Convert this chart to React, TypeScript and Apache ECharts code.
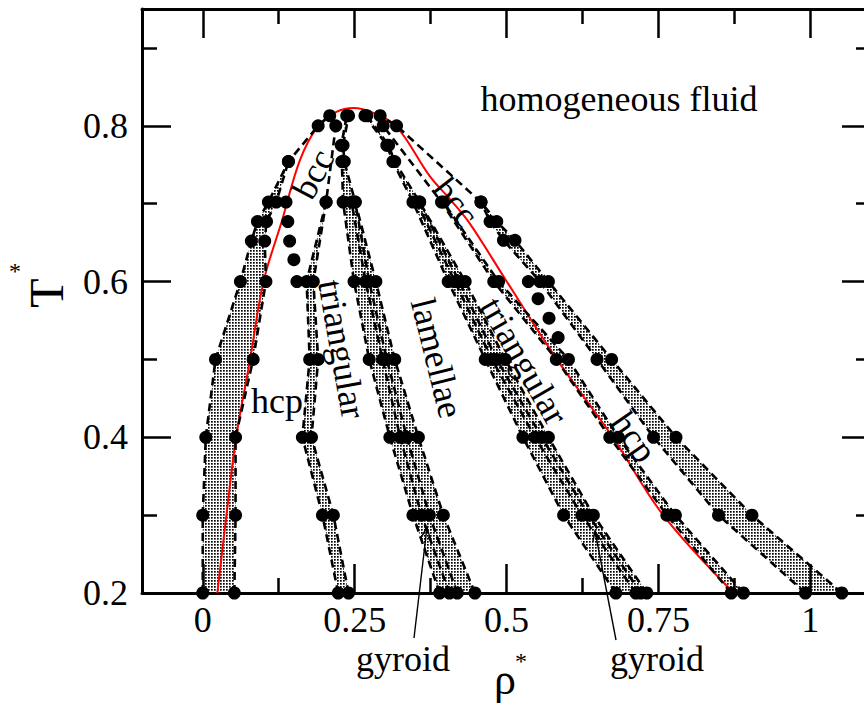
import React, { useEffect, useRef } from "react";
import * as echarts from "echarts";

// ---- axis ticks ----
const X_MAJOR = [0, 0.25, 0.5, 0.75, 1];
const X_MINOR = [0.125, 0.375, 0.625, 0.875];
const Y_MAJOR = [0.2, 0.4, 0.6, 0.8];
const Y_MINOR = [0.3, 0.5, 0.7, 0.9];

// ---- phase boundaries [rho*, T*] ----
const fluidLeftA = [[0.0, 0.2], [0.0, 0.3], [0.005, 0.4], [0.021, 0.5], [0.062, 0.6], [0.08, 0.652], [0.09, 0.677], [0.108, 0.702], [0.141, 0.754], [0.19, 0.8], [0.209, 0.813]];
const fluidLeftB = [[0.052, 0.2], [0.054, 0.3], [0.054, 0.4], [0.083, 0.5], [0.104, 0.6], [0.102, 0.652], [0.105, 0.677], [0.121, 0.702], [0.141, 0.754]];
const bccHcpLeft = [[0.155, 0.6], [0.15, 0.628], [0.143, 0.652], [0.14, 0.677], [0.137, 0.702]];
const hcpTriLeftA = [[0.223, 0.2], [0.197, 0.3], [0.164, 0.4], [0.176, 0.5], [0.171, 0.6], [0.203, 0.702], [0.219, 0.8]];
const hcpTriLeftB = [[0.24, 0.2], [0.215, 0.3], [0.179, 0.4], [0.19, 0.5], [0.182, 0.6], [0.203, 0.702]];
const triLamLeft1 = [[0.39, 0.2], [0.346, 0.3], [0.308, 0.4], [0.274, 0.5], [0.249, 0.6], [0.231, 0.702], [0.229, 0.754], [0.228, 0.775], [0.237, 0.813]];
const triLamLeft2 = [[0.406, 0.2], [0.36, 0.3], [0.325, 0.4], [0.296, 0.5], [0.268, 0.6], [0.245, 0.702]];
const triLamLeft3 = [[0.419, 0.2], [0.373, 0.3], [0.336, 0.4], [0.303, 0.5], [0.274, 0.6], [0.251, 0.702]];
const triLamLeft4 = [[0.448, 0.2], [0.396, 0.3], [0.355, 0.4], [0.316, 0.5], [0.285, 0.6], [0.251, 0.702], [0.233, 0.754], [0.231, 0.775], [0.24, 0.813]];
const lamTriRight1 = [[0.68, 0.2], [0.594, 0.3], [0.527, 0.4], [0.465, 0.5], [0.404, 0.6], [0.346, 0.702], [0.313, 0.754], [0.303, 0.775], [0.267, 0.813]];
const lamTriRight2 = [[0.713, 0.2], [0.624, 0.3], [0.547, 0.4], [0.476, 0.5], [0.415, 0.6], [0.352, 0.702]];
const lamTriRight3 = [[0.721, 0.2], [0.635, 0.3], [0.558, 0.4], [0.484, 0.5], [0.422, 0.6], [0.357, 0.702]];
const lamTriRight4 = [[0.731, 0.2], [0.643, 0.3], [0.569, 0.4], [0.498, 0.5], [0.432, 0.6], [0.357, 0.702], [0.316, 0.754], [0.306, 0.775], [0.27, 0.813]];
const triHcpRightA = [[0.87, 0.2], [0.764, 0.3], [0.67, 0.4], [0.582, 0.5], [0.479, 0.6], [0.393, 0.702], [0.297, 0.8]];
const triHcpRightB = [[0.89, 0.2], [0.778, 0.3], [0.684, 0.4], [0.602, 0.5], [0.487, 0.6], [0.396, 0.702]];
const bccHcpRight = [[0.536, 0.6], [0.552, 0.578], [0.57, 0.553], [0.585, 0.528]];
const fluidRightA = [[1.052, 0.2], [0.904, 0.3], [0.779, 0.4], [0.673, 0.5], [0.569, 0.6], [0.514, 0.653], [0.484, 0.677], [0.458, 0.702], [0.319, 0.8], [0.292, 0.813]];
const fluidRightB = [[0.992, 0.2], [0.849, 0.3], [0.742, 0.4], [0.649, 0.5], [0.555, 0.6], [0.495, 0.653], [0.473, 0.677], [0.458, 0.702]];

// mean-field (red) curve
const redCurve = [[0.024, 0.2], [0.039, 0.3], [0.055, 0.4], [0.078, 0.5], [0.1, 0.6], [0.13, 0.677], [0.16, 0.756], [0.19, 0.8], [0.22, 0.818], [0.248, 0.823], [0.28, 0.817], [0.319, 0.799], [0.374, 0.735], [0.41, 0.703], [0.44, 0.674], [0.498, 0.603], [0.583, 0.5], [0.675, 0.4], [0.758, 0.3], [0.874, 0.2]];

const FONT = '"Liberation Serif", "Times New Roman", serif';

function band(a: number[][], b: number[][], tmax: number) {
  const left = a.filter((p) => p[1] <= tmax);
  const right = b.filter((p) => p[1] <= tmax).slice().reverse();
  return left.concat(right);
}

function txt(text: string, x: number, y: number, deg: number, size: number) {
  return {
    type: "text",
    x,
    y,
    rotation: (deg * Math.PI) / 180,
    silent: true,
    z: 100,
    style: {
      text,
      fill: "#000",
      font: `${size}px ${FONT}`,
      align: "center",
      verticalAlign: "middle",
      textAlign: "center",
      textVerticalAlign: "middle",
    },
  };
}

function arrow(fx: number, fy: number, tx: number, ty: number) {
  const dx = tx - fx;
  const dy = ty - fy;
  const len = Math.sqrt(dx * dx + dy * dy);
  const ux = dx / len;
  const uy = dy / len;
  const L = 11;
  const a = (22 * Math.PI) / 180;
  const r1 = [ux * Math.cos(a) - uy * Math.sin(a), ux * Math.sin(a) + uy * Math.cos(a)];
  const r2 = [ux * Math.cos(-a) - uy * Math.sin(-a), ux * Math.sin(-a) + uy * Math.cos(-a)];
  return [
    { type: "line", silent: true, z: 100, shape: { x1: fx, y1: fy, x2: tx, y2: ty }, style: { stroke: "#000", lineWidth: 1.4 } },
    {
      type: "polyline",
      silent: true,
      z: 100,
      shape: { points: [[tx - L * r1[0], ty - L * r1[1]], [tx, ty], [tx - L * r2[0], ty - L * r2[1]]] },
      style: { stroke: "#000", lineWidth: 1.4, fill: null },
    },
  ];
}

const fmt = (v: number) => String(parseFloat(Number(v).toFixed(3)));

export default function App() {
  const ref = useRef<HTMLDivElement>(null);

  useEffect(() => {
    if (!ref.current) return;
    const chart = echarts.init(ref.current, null, { renderer: "svg" });

    const cv = document.createElement("canvas");
    cv.width = 3;
    cv.height = 3;
    const ctx = cv.getContext("2d");
    if (ctx) {
      ctx.fillStyle = "#000";
      ctx.fillRect(1, 1, 1.7, 1.7);
    }
    const pattern: any = { image: cv, repeat: "repeat", imageWidth: 3, imageHeight: 3 };

    const bands = [
      band(fluidLeftA, fluidLeftB, 0.754),
      band(hcpTriLeftA, hcpTriLeftB, 0.702),
      band(triLamLeft1, triLamLeft4, 0.82),
      band(lamTriRight1, lamTriRight4, 0.82),
      band(triHcpRightA, triHcpRightB, 0.702),
      band(fluidRightA, fluidRightB, 0.702),
    ];

    const bandSeries = bands.map((poly) => ({
      type: "custom",
      coordinateSystem: "cartesian2d",
      xAxisIndex: 0,
      yAxisIndex: 0,
      silent: true,
      z: 1,
      data: poly,
      encode: { x: 0, y: 1 },
      renderItem: (params: any, api: any) => {
        if (params.dataIndex !== 0) return null;
        const pts = poly.map((p) => api.coord(p));
        return { type: "polygon", shape: { points: pts }, style: { fill: pattern, stroke: null } };
      },
    }));

    const dashedLines = [
      fluidLeftA, fluidLeftB, hcpTriLeftA, hcpTriLeftB,
      triLamLeft1, triLamLeft2, triLamLeft3, triLamLeft4,
      lamTriRight1, lamTriRight2, lamTriRight3, lamTriRight4,
      triHcpRightA, triHcpRightB, fluidRightA, fluidRightB,
    ];

    const lineSeries = dashedLines.map((d) => ({
      type: "line",
      data: d,
      silent: true,
      z: 4,
      symbol: "circle",
      symbolSize: 13,
      showSymbol: true,
      showAllSymbol: true,
      itemStyle: { color: "#000", opacity: 1 },
      lineStyle: { color: "#000", width: 2.6, type: [8, 5] },
    }));

    const dotSeries = [bccHcpLeft, bccHcpRight].map((d) => ({
      type: "scatter",
      data: d,
      silent: true,
      z: 4,
      symbol: "circle",
      symbolSize: 13,
      itemStyle: { color: "#000", opacity: 1 },
    }));

    const labelStyle = { color: "#000", fontFamily: FONT, fontSize: 36 };

    const xAx = (position: string, vals: number[], len: number, labels: boolean, line: boolean) => ({
      type: "value",
      position,
      min: -0.1,
      max: 1.1,
      splitLine: { show: false },
      axisLine: { show: line, onZero: false, lineStyle: { color: "#000", width: 3 } },
      axisTick: { show: true, inside: true, length: len, customValues: vals, lineStyle: { color: "#000", width: 2.5 } },
      axisLabel: labels
        ? { show: true, customValues: vals, formatter: fmt, margin: 9, ...labelStyle }
        : { show: false },
    });
    const yAx = (position: string, vals: number[], len: number, labels: boolean, line: boolean) => ({
      type: "value",
      position,
      min: 0.2,
      max: 0.95,
      splitLine: { show: false },
      axisLine: { show: line, onZero: false, lineStyle: { color: "#000", width: 3 } },
      axisTick: { show: true, inside: true, length: len, customValues: vals, lineStyle: { color: "#000", width: 2.5 } },
      axisLabel: labels
        ? { show: true, customValues: vals, formatter: fmt, margin: 14, ...labelStyle }
        : { show: false },
    });

    const option: any = {
      animation: false,
      backgroundColor: "#fff",
      grid: { left: 142, right: -7, top: 9, bottom: 114, containLabel: false, outerBoundsMode: "none" },
      xAxis: [
        xAx("bottom", X_MAJOR, 29, true, true),
        xAx("bottom", X_MINOR, 15, false, false),
        xAx("top", X_MAJOR, 29, false, true),
        xAx("top", X_MINOR, 15, false, false),
      ],
      yAxis: [
        yAx("left", Y_MAJOR, 29, true, true),
        yAx("left", Y_MINOR, 15, false, false),
        yAx("right", Y_MAJOR, 29, false, true),
        yAx("right", Y_MINOR, 15, false, false),
      ],
      series: [
        ...bandSeries,
        {
          type: "line",
          data: redCurve,
          smooth: 0.35,
          silent: true,
          z: 3,
          showSymbol: false,
          symbol: "none",
          lineStyle: { color: "#ff0000", width: 2 },
        },
        ...lineSeries,
        ...dotSeries,
      ],
      graphic: [
        txt("homogeneous fluid", 619, 99, 0, 36),
        txt("bcc", 313, 174, 62, 36),
        txt("bcc", 456, 202, -52, 36),
        txt("hcp", 277, 401, 0, 36),
        txt("triangular", 342, 349, -80, 36),
        txt("lamellae", 437, 358, -76, 36),
        txt("triangular", 524, 361, -60, 36),
        txt("hcp", 634, 437, -55, 36),
        txt("gyroid", 403, 659, 0, 36),
        txt("gyroid", 657, 659, 0, 36),
        txt("T", 46, 293, 90, 48),
        txt("*", 15, 271, 0, 24),
        txt("ρ", 505, 679, 0, 44),
        txt("*", 521, 661, 0, 24),
        ...arrow(414, 638, 427, 527),
        ...arrow(616, 640, 595, 531),
      ],
    };

    chart.setOption(option);
    return () => chart.dispose();
  }, []);

  return (
    <div
      ref={ref}
      style={{ position: "fixed", left: 0, top: 0, width: 864, height: 707, background: "#fff" }}
    />
  );
}
